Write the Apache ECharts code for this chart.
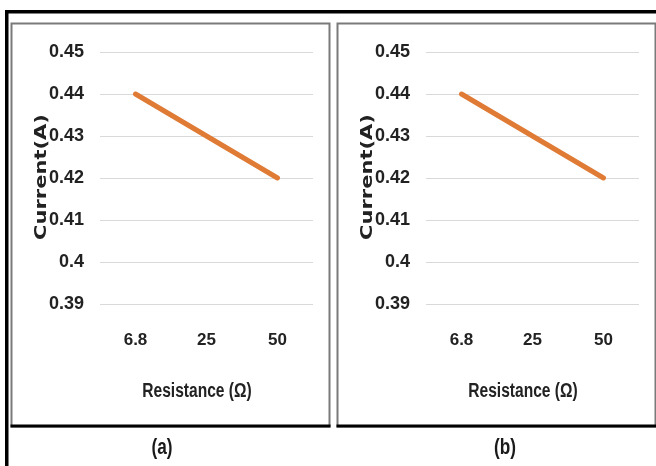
<!DOCTYPE html>
<html>
<head>
<meta charset="utf-8">
<script src="https://cdn.jsdelivr.net/npm/echarts@6/dist/echarts.min.js"></script>
<style>
html,body{margin:0;padding:0;background:#fff;}
#c{width:656px;height:466px;}
</style>
</head>
<body>
<div id="c"></div>
<script>
var resistanceCategories = ['6.8', '25', '50'];
var currentPanelA = [0.44, 0.43, 0.42];
var currentPanelB = [0.44, 0.43, 0.42];
var yMin = 0.39, yMax = 0.45, yStep = 0.01;
var panelLabels = ['(a)', '(b)'];
var xTitle = 'Resistance (\u03A9)';
var yTitle = 'Current(A)';

var FAM = '"Liberation Sans", Arial, sans-serif';
var chart = echarts.init(document.getElementById('c'), null, {renderer: 'canvas'});

function xAxisFor(idx) {
  return {
    type: 'category', gridIndex: idx, data: resistanceCategories, boundaryGap: true,
    axisLine: {show: false}, axisTick: {show: false},
    axisLabel: {margin: 28, color: '#222', fontFamily: FAM, fontWeight: 'bold', fontSize: 17}
  };
}
function yAxisFor(idx) {
  return {
    type: 'value', gridIndex: idx, min: yMin, max: yMax, interval: yStep,
    axisLine: {show: false}, axisTick: {show: false},
    axisLabel: {margin: 16, color: '#222', fontFamily: FAM, fontWeight: 'bold', fontSize: 18,
      formatter: function (v) { return String(Math.round(v * 100) / 100); }},
    splitLine: {lineStyle: {color: '#d9d9d9', width: 1}}
  };
}
function seriesFor(idx, data) {
  return {
    type: 'line', xAxisIndex: idx, yAxisIndex: idx, data: data,
    showSymbol: false, symbol: 'none', animation: false,
    lineStyle: {color: '#E07B36', width: 5, cap: 'round'}
  };
}

var graphics = [];
// outer black frame (top & left)
graphics.push({type: 'rect', shape: {x: 5, y: 10, width: 656, height: 3.5}, style: {fill: '#000'}, z: 10});
graphics.push({type: 'rect', shape: {x: 5, y: 10, width: 3.5, height: 466}, style: {fill: '#000'}, z: 10});
var panelX = [11, 337];
panelX.forEach(function (px, i) {
  graphics.push({type: 'rect', shape: {x: px + 0.5, y: 23.5, width: 318, height: 403},
    style: {fill: 'none', stroke: '#7a7a7a', lineWidth: 2}, z: 10});
  graphics.push({type: 'rect', shape: {x: px - 0.5, y: 424.5, width: 320, height: 3},
    style: {fill: '#000'}, z: 11});
  graphics.push({type: 'text', x: px + 31, y: 177, rotation: Math.PI / 2, scaleX: 1.4,
    style: {text: yTitle, font: 'bold 15px "DejaVu Sans", sans-serif', fill: '#222',
      textAlign: 'center', textVerticalAlign: 'middle'}, z: 12});
  graphics.push({type: 'text', x: px + 186, y: 392, scaleX: 0.82, scaleY: 1.05,
    style: {text: xTitle, font: 'bold 19px ' + FAM, fill: '#222',
      textAlign: 'center', textVerticalAlign: 'middle'}, z: 12});
  graphics.push({type: 'text', x: px + (i === 0 ? 151 : 168), y: 448, scaleX: 0.82, scaleY: 1.05,
    style: {text: panelLabels[i], font: 'bold 21px ' + FAM, fill: '#1a1a1a',
      textAlign: 'center', textVerticalAlign: 'middle'}, z: 12});
});

chart.setOption({
  animation: false,
  backgroundColor: '#fff',
  grid: [
    {left: 100, top: 52, width: 213, height: 252},
    {left: 426, top: 52, width: 213, height: 252}
  ],
  xAxis: [xAxisFor(0), xAxisFor(1)],
  yAxis: [yAxisFor(0), yAxisFor(1)],
  series: [seriesFor(0, currentPanelA), seriesFor(1, currentPanelB)],
  graphic: graphics
});
</script>
</body>
</html>
